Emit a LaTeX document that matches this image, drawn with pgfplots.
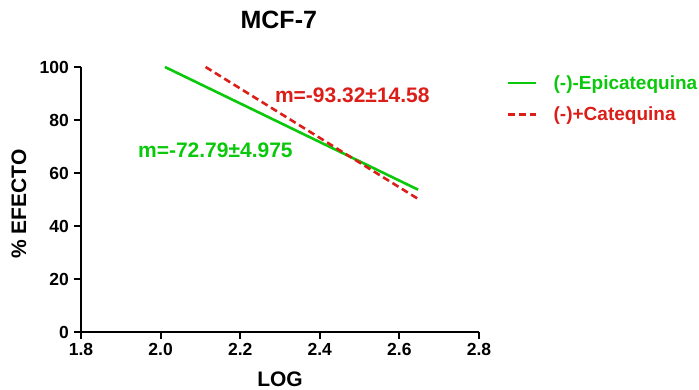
\documentclass[border=0pt]{standalone}
\usepackage{fontspec}
\setmainfont{Liberation Sans}
\usepackage{pgfplots}
\pgfplotsset{compat=1.18}
\definecolor{cgreen}{RGB}{10,200,10}
\definecolor{cred}{RGB}{220,30,25}
\newcommand{\fs}[1]{\fontsize{#1}{#1}\selectfont\bfseries}
\begin{document}
\begin{tikzpicture}
\begin{axis}[
  at={(0pt,0pt)}, anchor=south west, scale only axis,
  width=398pt, height=265pt,
  xmin=1.8, xmax=2.8, ymin=0, ymax=100,
  axis x line*=bottom, axis y line*=left,
  axis line style={line width=2pt, black},
  tick style={line width=2pt, black},
  tick align=outside, major tick length=7pt,
  xtick={1.8,2.0,2.2,2.4,2.6,2.8},
  ytick={0,20,40,60,80,100},
  /pgf/number format/assume math mode=true,
  xticklabel={\pgfmathprintnumber[fixed,fixed zerofill,precision=1]{\tick}},
  ticklabel style={font=\fs{17.5}},
  yticklabel style={inner sep=0pt, xshift=-5pt},
  xticklabel style={inner sep=0pt, yshift=-4pt},
  clip=false,
  title={MCF-7},
  title style={font=\fs{25}, at={(0.497,1.121)}, anchor=base},
  xlabel={LOG},
  xlabel style={font=\fs{21}, at={(0.5,-0.205)}, anchor=base},
  ylabel={\% EFECTO},
  ylabel style={font=\fs{21}, at={(-0.156,0.483)}, anchor=center},
  legend style={at={(1.070,0.880)}, anchor=west, draw=none, fill=none,
    inner sep=0pt, font=\fs{19}, row sep=16pt,
    nodes={inner sep=0pt}},
  legend cell align=left,
  legend image code/.code={\draw[#1] (0pt,0pt) -- (28pt,0pt);},
]
\addplot[cgreen, line width=2.6pt] coordinates {(2.011,100) (2.647,53.7)};
\addplot[cred, line width=2.6pt, dash pattern=on 7pt off 4pt] coordinates {(2.113,100) (2.645,50.4)};
\legend{\hspace{16pt}\textcolor{cgreen}{(-)-Epicatequina}, \hspace{16pt}\textcolor{cred}{(-)+Catequina}}
\node[anchor=west, text=cred, font=\fs{21}, inner sep=0pt] at (axis cs:2.287,89.4) {m=-93.32±14.58};
\node[anchor=west, text=cgreen, font=\fs{21}, inner sep=0pt] at (axis cs:1.943,68.7) {m=-72.79±4.975};
\end{axis}
\path (-81pt,-58pt) rectangle (618pt,332pt);
\end{tikzpicture}
\end{document}
